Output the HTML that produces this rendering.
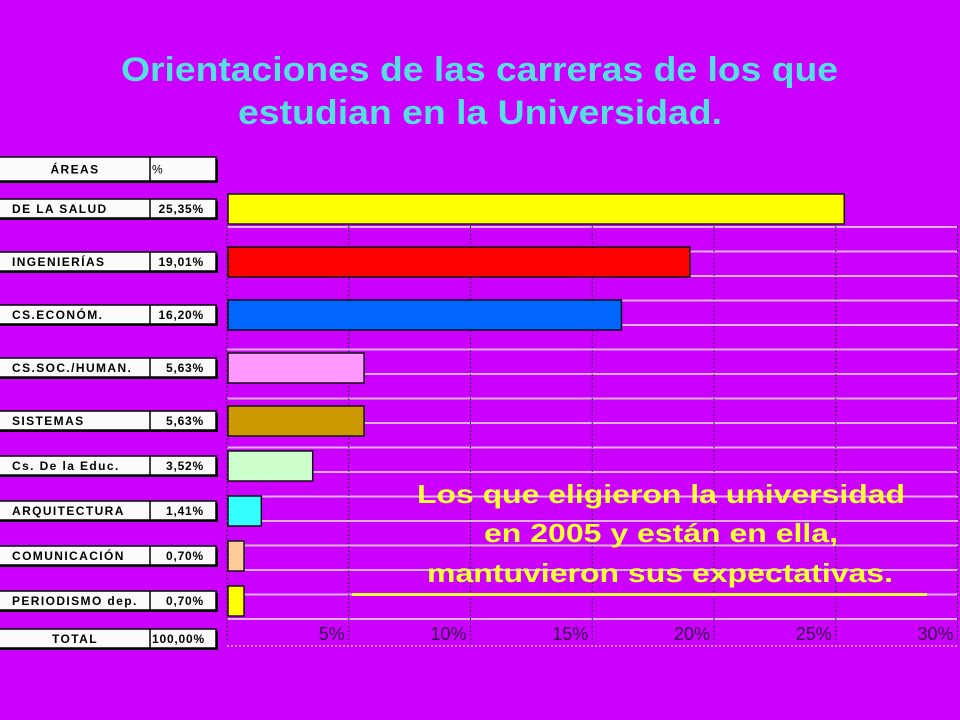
<!DOCTYPE html>
<html><head><meta charset="utf-8"><style>
html,body{margin:0;padding:0;background:#cc00ff;}
svg{display:block;font-family:"Liberation Sans",Arial,sans-serif;}
</style></head><body>
<svg id="chart" width="960" height="720" viewBox="0 0 960 720">
<rect width="960" height="720" fill="#cc00ff"/>
<text x="121" y="81" font-size="34" font-weight="bold" fill="#55e0e0" textLength="717" lengthAdjust="spacingAndGlyphs">Orientaciones de las carreras de los que</text>
<text x="238" y="124" font-size="34" font-weight="bold" fill="#55e0e0" textLength="484" lengthAdjust="spacingAndGlyphs">estudian en la Universidad.</text>
<g id="grid"></g>
<g id="table"></g>
<g id="bars"></g>
<g id="ticks"></g>
<g>
<text x="417" y="503" font-size="26" font-weight="bold" fill="#ffff33" textLength="488" lengthAdjust="spacingAndGlyphs">Los que eligieron la universidad</text>
<text x="484" y="542" font-size="26" font-weight="bold" fill="#ffff33" textLength="354" lengthAdjust="spacingAndGlyphs">en 2005 y están en ella,</text>
<text x="427" y="582" font-size="26" font-weight="bold" fill="#ffff33" textLength="466" lengthAdjust="spacingAndGlyphs">mantuvieron sus expectativas.</text>
<rect x="352" y="593" width="575" height="3" fill="#ffff33"/>
</g>
</svg>
<script>
const categories = ["DE LA SALUD","INGENIERÍAS","CS.ECONÓM.","CS.SOC./HUMAN.","SISTEMAS","Cs. De la Educ.","ARQUITECTURA","COMUNICACIÓN","PERIODISMO dep."];
const values = [25.35,19.01,16.20,5.63,5.63,3.52,1.41,0.70,0.70];
const valueLabels = ["25,35%","19,01%","16,20%","5,63%","5,63%","3,52%","1,41%","0,70%","0,70%"];
const colors = ["#ffff00","#ff0000","#0066ff","#ff99ff","#cc9900","#ccffcc","#33ffff","#ffcc99","#ffff00"];
const ticks = [5,10,15,20,25,30];
const tickLabels = ["5%","10%","15%","20%","25%","30%"];
const totalLabel = "100,00%";

const NS = "http://www.w3.org/2000/svg";
const X0 = 227, PXPER = 24.35;
function xScale(v){ return X0 + v*PXPER; }
function yCenter(i){ return i < 5 ? 209 + 53*i : 421 + 45*(i-4); }
function mk(tag, attrs, parent){ const e=document.createElementNS(NS,tag); for(const k in attrs) e.setAttribute(k,attrs[k]); parent.appendChild(e); return e; }

const grid = document.getElementById('grid');
for(let k=0;k<17;k++){
  const y = 227 + k*24.5;
  const l = mk('line',{x1:X0,x2:958,y1:y,y2:y,stroke:'#e0b0f0','stroke-width':2},grid);
  
  
}
const lb = mk('line',{x1:X0,x2:958,y1:646,y2:646,stroke:'#ffffff','stroke-width':1,'stroke-dasharray':'2,2'},grid);


[0].concat(ticks).forEach(t=>{
  const x = xScale(t);
  const l = mk('line',{x1:x,x2:x,y1:226,y2:646,stroke:'#333333','stroke-width':1,'stroke-dasharray':'2,2'},grid);
  
  
});

const tk = document.getElementById('ticks');
ticks.forEach((t,i)=>{
  const tx = mk('text',{x:xScale(t)-4,y:640,'text-anchor':'end','font-size':18,fill:'#330044'},tk);
  tx.textContent = tickLabels[i];
  
  
});

const bars = document.getElementById('bars');
values.forEach((v,i)=>{
  const h = 30, y = yCenter(i) - h/2;
  const r = mk('rect',{x:X0+1,y:y,width:Math.max(0,xScale(v)-X0-1),height:h,fill:colors[i],stroke:'#111','stroke-width':1.5},bars);
  
  
});

const tb = document.getElementById('table');
function row(y, h, label, val, name, bold, center){
  const g = mk('g',{},tb);
  
  
  mk('rect',{x:-2,y:y+2,width:220,height:h,fill:'#000'},g);
  mk('rect',{x:-2,y:y,width:218,height:h,fill:'#fbfbfb',stroke:'#000','stroke-width':1.5},g);
  mk('line',{x1:150,x2:150,y1:y,y2:y+h,stroke:'#000','stroke-width':1.5},g);
  const t1 = mk('text',{x:center?75:12,y:y+h/2+4.5,'font-size':12,'font-weight':'bold','letter-spacing':1.4,'text-anchor':center?'middle':'start',fill:'#000'},g);
  t1.textContent = label;
  const t2 = mk('text',{x:center?152:204,y:y+h/2+4.5,'font-size':12,'font-weight':bold?'normal':'bold','letter-spacing':0.8,'text-anchor':center?'start':'end',fill:'#000'},g);
  t2.textContent = val;
}
row(157,24,"ÁREAS","%","table-header",true,true);
categories.forEach((c,i)=>{ row(yCenter(i)-10,19,c,valueLabels[i],'table-row',false,false); });
row(629,19,"TOTAL",totalLabel,"table-total",false,true);
</script>
</body></html>
